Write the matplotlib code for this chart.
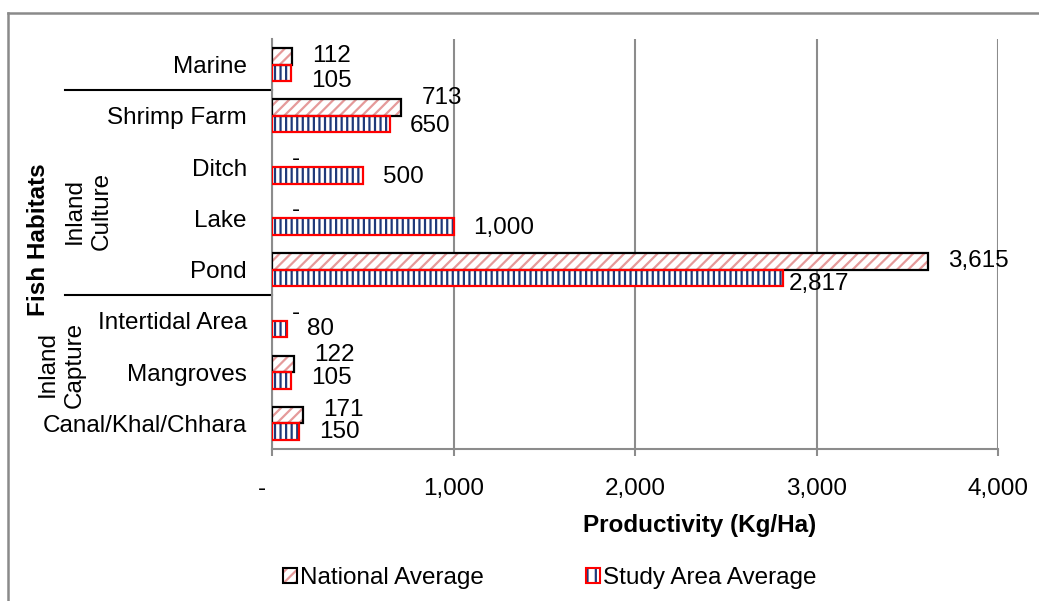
import matplotlib
matplotlib.use("Agg")
import matplotlib.pyplot as plt
from matplotlib.lines import Line2D
from matplotlib.patches import Patch
from matplotlib.legend_handler import HandlerTuple
from matplotlib.ticker import FuncFormatter

plt.rcParams["font.family"] = ["Liberation Sans", "DejaVu Sans"]
plt.rcParams["hatch.linewidth"] = 1.6

# Habitats listed bottom to top
habitats = ["Canal/Khal/Chhara", "Mangroves", "Intertidal Area", "Pond",
            "Lake", "Ditch", "Shrimp Farm", "Marine"]
national_avg = [171, 122, 0, 3615, 0, 0, 713, 112]
study_avg = [150, 105, 80, 2817, 1000, 500, 650, 105]
x_ticks = [0, 1000, 2000, 3000, 4000]

series_names = ["National Average", "Study Area Average"]
group_labels = ["Inland\nCulture", "Inland\nCapture"]
axis_title = "Fish Habitats"
x_title = "Productivity (Kg/Ha)"

# Label nudges (pixels: dx, dy up) so neighbouring value labels don't collide
nat_nudge = [(0, 5), (0, 9), (0, 0), (0, 0), (0, 0), (0, 0), (0, 10), (0, 0)]
std_nudge = [(0, 0), (0, 2), (0, 0), (-15, -6), (0, -1), (0, -2), (0, -2), (0, -8)]

NAT_HATCH = "#e59a9a"
STUDY_HATCH = "#1f3a7a"
GRID = "#8c8c8c"
FS = 17.5

W, H = 1039, 601
fig = plt.figure(figsize=(W / 100, H / 100), dpi=100)
ax = fig.add_axes([272 / W, 1 - 449 / H, 726 / W, 410 / H])

ypos = list(range(len(habitats)))
bh = 0.32
y_nat = [y + bh / 2 for y in ypos]
y_std = [y - bh / 2 for y in ypos]

# National: red diagonal hatching, black outline
ax.barh(y_nat, national_avg, height=bh, color="white",
        edgecolor=NAT_HATCH, hatch="///", linewidth=0, zorder=3)
ax.barh(y_nat, national_avg, height=bh, fill=False, edgecolor="black",
        linewidth=[1.6 if v else 0 for v in national_avg], zorder=4)
# Study area: blue vertical hatching, red outline
ax.barh(y_std, study_avg, height=bh, color="white",
        edgecolor=STUDY_HATCH, hatch="|||", linewidth=0, zorder=3)
ax.barh(y_std, study_avg, height=bh, fill=False, edgecolor="red",
        linewidth=[1.6 if v else 0 for v in study_avg], zorder=4)


def fmt(v):
    return "-" if v == 0 else f"{v:,.0f}"


PT = 0.72  # points per pixel at 100 dpi
for y, v, (dx, dy) in zip(y_nat, national_avg, nat_nudge):
    ax.annotate(fmt(v), (v, y), xytext=((20 + dx) * PT, dy * PT),
                textcoords="offset points", ha="left", va="center",
                fontsize=FS, zorder=5)
for y, v, (dx, dy) in zip(y_std, study_avg, std_nudge):
    ax.annotate(fmt(v), (v, y), xytext=((20 + dx) * PT, dy * PT),
                textcoords="offset points", ha="left", va="center",
                fontsize=FS, zorder=5)

ax.set_xlim(0, 4000)
ax.set_ylim(-0.5, len(habitats) - 0.5)
ax.set_xticks(x_ticks)
ax.xaxis.set_major_formatter(FuncFormatter(lambda v, p: "-   " if v == 0 else f"{v:,.0f}"))
ax.set_yticks(ypos)
ax.set_yticklabels(habitats)
ax.tick_params(axis="y", length=0, pad=18, labelsize=FS)
ax.tick_params(axis="x", length=5, width=1.5, color=GRID, pad=16, labelsize=FS,
               direction="out")
ax.grid(axis="x", color=GRID, linewidth=1.5, zorder=0)
for s in ["top", "right"]:
    ax.spines[s].set_visible(False)
for s in ["left", "bottom"]:
    ax.spines[s].set_color(GRID)
    ax.spines[s].set_linewidth(1.5)
ax.set_xlabel(x_title, fontsize=FS, fontweight="bold")
ax.xaxis.set_label_coords((700 - 272) / 726, -(514 - 449) / 410)

# Multi-level category dividers
ytr = ax.get_yaxis_transform()
for yb in [6.5, 2.5]:
    ax.add_line(Line2D([(65 - 272) / 726, 0], [yb, yb], transform=ytr,
                       color="black", linewidth=1.5, clip_on=False))

ax.text(-(272 - 88) / 726, 4.15, group_labels[0], transform=ytr, rotation=90,
        ha="center", va="center", fontsize=FS, linespacing=1.3, multialignment="center")
ax.text(-(272 - 61) / 726, 1.15, group_labels[1], transform=ytr, rotation=90,
        ha="center", va="center", fontsize=FS, linespacing=1.3, multialignment="center")
fig.text(39 / W, 1 - 240 / H, axis_title, rotation=90, ha="center", va="center",
         fontsize=FS, fontweight="bold")

# Legend
h_nat = (Patch(facecolor="white", edgecolor=NAT_HATCH, hatch="///", linewidth=0),
         Patch(fill=False, edgecolor="black", linewidth=1.5))
h_std = (Patch(facecolor="white", edgecolor=STUDY_HATCH, hatch="||", linewidth=0),
         Patch(fill=False, edgecolor="red", linewidth=1.5))
fig.legend([h_nat, h_std], series_names, handler_map={tuple: HandlerTuple(ndivide=1)},
           loc="center", bbox_to_anchor=(550 / W, 1 - 578 / H), ncol=2, frameon=False,
           fontsize=FS, handlelength=0.55, handleheight=0.6, handletextpad=0.15,
           columnspacing=4.2)

# Outer chart frame (left and top edges visible)
fig.add_artist(Line2D([8 / W, 8 / W], [0, 1 - 13 / H], color="#8a8a8a", linewidth=1.8))
fig.add_artist(Line2D([8 / W, 1], [1 - 13 / H, 1 - 13 / H], color="#8a8a8a", linewidth=1.8))

fig.savefig("out.png", dpi=100, facecolor="white")
